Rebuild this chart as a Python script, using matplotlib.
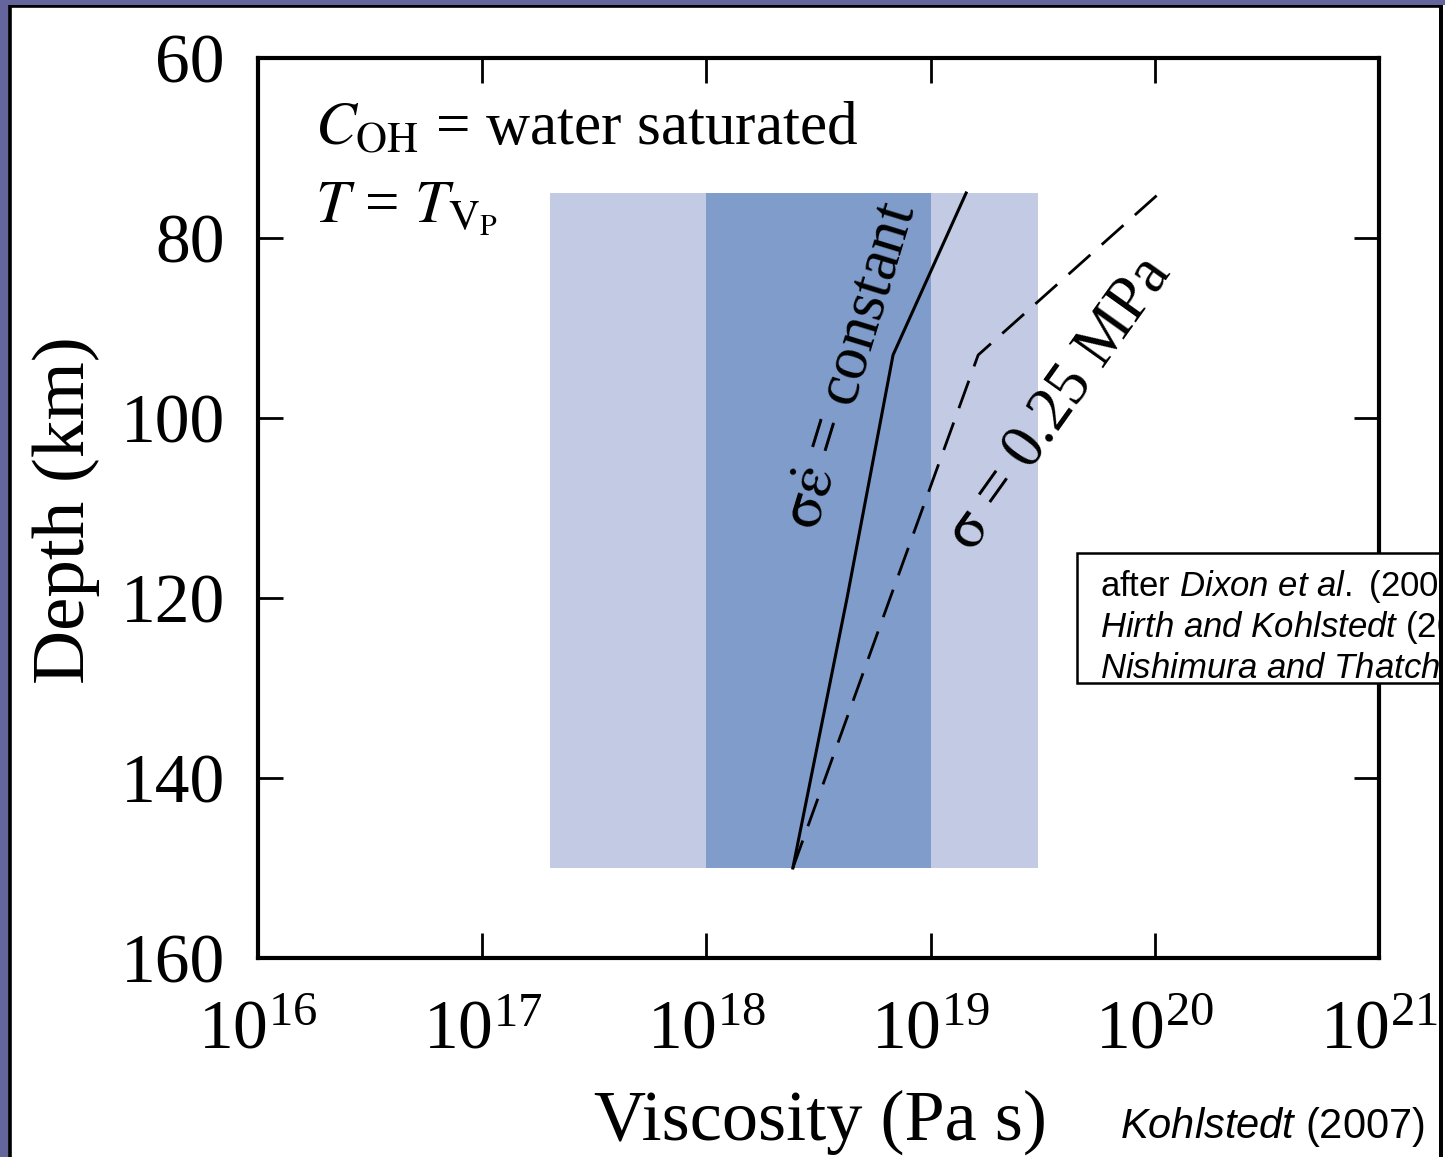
import matplotlib
matplotlib.use('Agg')
import matplotlib.pyplot as plt
from matplotlib.patches import Rectangle
from matplotlib.ticker import NullLocator

W, H = 1445, 1157

# ---- data ----
depth_range = [75, 150]            # km, depth span of the shaded bands
wide_band = [2e17, 3e19]           # Pa s, light band
core_band = [1e18, 1e19]           # Pa s, dark band
const_depth = [150, 120, 93, 75]   # sigma * strain rate = constant
const_visc = [2.43e18, 4.24e18, 6.8e18, 1.44e19]
stress_depth = [150, 120, 93, 75]  # sigma = 0.25 MPa
stress_visc = [2.43e18, 6.6e18, 1.63e19, 1.05e20]
x_ticks = [1e16, 1e17, 1e18, 1e19, 1e20, 1e21]
y_ticks = [60, 80, 100, 120, 140, 160]

light = '#c2cae4'
dark = '#7f9ccb'
purple = '#65659d'

plt.rcParams['font.family'] = 'Liberation Serif'
plt.rcParams['mathtext.fontset'] = 'custom'
plt.rcParams['mathtext.rm'] = 'Liberation Sans'
plt.rcParams['mathtext.it'] = 'Liberation Sans:italic'


def fx(x):
    return x / W


def fy(y):
    return 1 - y / H


fig = plt.figure(figsize=(W / 100, H / 100), dpi=100, facecolor='white')

# slide frame
fig.add_artist(Rectangle((0, 0), fx(9), 1, transform=fig.transFigure,
                         facecolor=purple, edgecolor='none', zorder=-5))
fig.add_artist(Rectangle((fx(10), -0.1), fx(1441) - fx(10), fy(6) + 0.1,
                         transform=fig.transFigure, facecolor='white',
                         edgecolor='black', linewidth=2.6, zorder=-4))

ax = fig.add_axes([fx(258), fy(958), fx(1379) - fx(258), fy(58) - fy(958)])
ax.set_xscale('log')
ax.set_xlim(1e16, 1e21)
ax.set_ylim(160, 60)

ax.fill_betweenx(depth_range, wide_band[0], wide_band[1], color=light, lw=0)
ax.fill_betweenx(depth_range, core_band[0], core_band[1], color=dark, lw=0)

ax.plot(const_visc, const_depth, color='black', lw=2.2)
ax.plot(stress_visc, stress_depth, color='black', lw=2.0, dashes=(10.5, 5.5))

ax.set_xticks(x_ticks)
ax.set_yticks(y_ticks)
ax.xaxis.set_minor_locator(NullLocator())
ax.yaxis.set_minor_locator(NullLocator())
ax.tick_params(direction='in', length=18, width=2, top=True, right=True,
               labelsize=50)
ax.tick_params(axis='x', pad=30)
ax.tick_params(axis='y', pad=24)
for lab in ax.get_xticklabels() + ax.get_yticklabels():
    lab.set_math_fontfamily('stix')
for sp in ax.spines.values():
    sp.set_linewidth(3)

# axis labels
fig.text(fx(820), fy(1140), 'Viscosity (Pa s)', fontsize=52,
         ha='center', va='baseline')
fig.text(fx(66), fy(510), 'Depth (km)', fontsize=54, rotation=90,
         ha='center', va='center')

# conditions
fig.text(fx(315), fy(144), r'$C_{\mathrm{OH}}$ = water saturated', fontsize=44,
         math_fontfamily='stix')
fig.text(fx(315), fy(222), r'$T$ = $T_{\mathrm{V_P}}$', fontsize=44,
         math_fontfamily='stix')

# curve labels
fig.text(fx(852), fy(366), r'$\mathrm{\sigma\dot{\varepsilon}}$ = constant',
         fontsize=45, rotation=73, rotation_mode='anchor',
         ha='center', va='center', math_fontfamily='stix')
fig.text(fx(1060), fy(404), r'$\mathrm{\sigma}$ = 0.25 MPa',
         fontsize=45, rotation=54.5, rotation_mode='anchor',
         ha='center', va='center', math_fontfamily='stix')

# reference box (cut by the slide edge, as in the source)
fig.add_artist(Rectangle((fx(1077), fy(683)), fx(1500) - fx(1077),
                         fy(553) - fy(683), transform=fig.transFigure,
                         facecolor='white', edgecolor='black', linewidth=1.8,
                         zorder=5))
refs = [r'after $\mathit{Dixon\ et\ al.}$ (2004)',
        r'$\mathit{Hirth\ and\ Kohlstedt}$ (2003)',
        r'$\mathit{Nishimura\ and\ Thatcher}$ (2003)']
for i, r in enumerate(refs):
    fig.text(fx(1100), fy(596 + 41 * i), r, fontsize=25,
             family='Liberation Sans', zorder=6)
fig.text(fx(1425), fy(1138), r'$\mathit{Kohlstedt}$ (2007)', fontsize=30,
         family='Liberation Sans', ha='right', zorder=6)

# right edge of the slide panel covers what runs past it
fig.add_artist(Rectangle((fx(1441), 0), 1, 1, transform=fig.transFigure,
                         facecolor='white', edgecolor='none', zorder=19))
fig.add_artist(Rectangle((fx(1441), -0.1), 0, 1.2, transform=fig.transFigure,
                         facecolor='none', edgecolor='black', linewidth=2.6,
                         zorder=20))
fig.add_artist(Rectangle((0, fy(4.5)), 1, 1, transform=fig.transFigure,
                         facecolor=purple, edgecolor='none', zorder=21))

fig.savefig('out.png', dpi=100, facecolor=fig.get_facecolor())
